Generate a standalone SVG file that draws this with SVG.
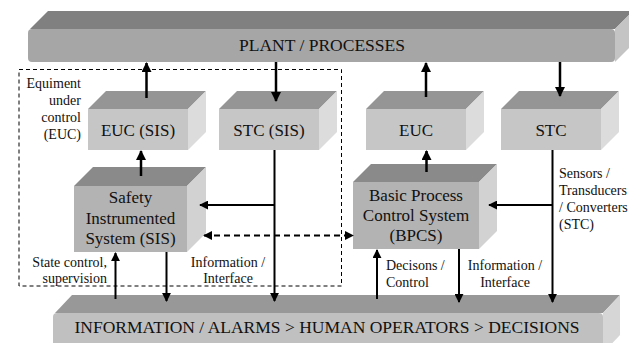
<svg xmlns="http://www.w3.org/2000/svg" width="629" height="343" viewBox="0 0 629 343" font-family="'Liberation Serif', 'DejaVu Serif', serif">
<defs>
<marker id="ah" viewBox="0 0 10 10" refX="9" refY="5" markerWidth="4" markerHeight="4" orient="auto-start-reverse" markerUnits="strokeWidth">
<path d="M0,0 L10,5 L0,10 z" fill="#000"/>
</marker>
<marker id="ahd" viewBox="0 0 10 10" refX="9" refY="5" markerWidth="4.5" markerHeight="4.5" orient="auto-start-reverse" markerUnits="strokeWidth">
<path d="M0,0 L10,5 L0,10 z" fill="#000"/>
</marker>
<style>
text{font-family:"Liberation Serif","DejaVu Serif",serif}
.big{font-size:17.5px;fill:#111;text-anchor:middle}
.box{font-size:17px;fill:#111;text-anchor:middle}
.lbl{font-size:14px;fill:#111}
.barF{fill:#a6a6a6}.barT{fill:#808080}.barS{fill:#c4c4c4}
.infF{fill:#c0c0c0}.infT{fill:#989898}.infS{fill:#d6d6d6}
.bF{fill:#c6c6c6}.bT{fill:#959595}.bS{fill:#dcdcdc}
.sF{fill:#b3b3b3}.sT{fill:#8a8a8a}.sS{fill:#d2d2d2}
.ln{stroke:#000;stroke-width:2.5;fill:none}
.ln2{stroke:#000;stroke-width:2;fill:none}
</style>
</defs>
<rect width="629" height="343" fill="#fff"/>

<g id="dashed-boundary">
<rect x="19" y="69.5" width="322.5" height="216.5" fill="none" stroke="#000" stroke-width="1" stroke-dasharray="4,3"/>
</g>

<g id="plant">
<polygon class="barT" points="30,29 48,11 633,11 615,29"/>
<polygon class="barS" points="615,29 633,11 633,44 615,62"/>
<rect class="barF" x="28" y="29" width="587" height="33" rx="4"/>
<text class="big" x="322" y="51">PLANT / PROCESSES</text>
</g>

<g id="info">
<polygon class="infT" points="55,313 72,295 620,295 603,313"/>
<polygon class="infS" points="603,313 620,295 620,335 603,353"/>
<rect class="infF" x="53" y="313" width="550" height="40" rx="4"/>
<text class="big" x="327" y="333">INFORMATION / ALARMS &gt; HUMAN OPERATORS &gt; DECISIONS</text>
</g>

<g id="euc-sis">
<polygon class="bT" points="88,109 106,91 206,91 188,109"/>
<polygon class="bS" points="188,109 206,91 206,132 188,150"/>
<rect class="bF" x="88" y="109" width="100" height="41"/>
<text class="box" x="138" y="135.5">EUC (SIS)</text>
</g>

<g id="stc-sis">
<polygon class="bT" points="219,109 237,91 337,91 319,109"/>
<polygon class="bS" points="319,109 337,91 337,132 319,150"/>
<rect class="bF" x="219" y="109" width="100" height="41"/>
<text class="box" x="269" y="135.5">STC (SIS)</text>
</g>

<g id="euc">
<polygon class="bT" points="366,109 384,91 484,91 466,109"/>
<polygon class="bS" points="466,109 484,91 484,132 466,150"/>
<rect class="bF" x="366" y="109" width="100" height="41"/>
<text class="box" x="416" y="135.5">EUC</text>
</g>

<g id="stc">
<polygon class="bT" points="501,109 519,91 619,91 601,109"/>
<polygon class="bS" points="601,109 619,91 619,132 601,150"/>
<rect class="bF" x="501" y="109" width="100" height="41"/>
<text class="box" x="551" y="135.5">STC</text>
</g>

<g id="sis">
<polygon class="sT" points="74,186 93,167 206,167 187,186"/>
<polygon class="sS" points="187,186 206,167 206,233 187,252"/>
<rect class="sF" x="74" y="186" width="113" height="66"/>
<text class="box" x="130.5" y="203">Safety</text>
<text class="box" x="130.5" y="224">Instrumented</text>
<text class="box" x="130.5" y="244">System (SIS)</text>
</g>

<g id="bpcs">
<polygon class="sT" points="353,182 371,164 497,164 479,182"/>
<polygon class="sS" points="479,182 497,164 497,231 479,249"/>
<rect class="sF" x="353" y="182" width="126" height="67"/>
<text class="box" x="416" y="201">Basic Process</text>
<text class="box" x="416" y="221">Control System</text>
<text class="box" x="416" y="241">(BPCS)</text>
</g>

<g id="connectors">
<line class="ln" x1="146.5" y1="98" x2="146.5" y2="63" marker-end="url(#ah)"/>
<line class="ln" x1="276" y1="62" x2="276" y2="101" marker-end="url(#ah)"/>
<line class="ln" x1="141" y1="176" x2="141" y2="151" marker-end="url(#ah)"/>
<line class="ln2" x1="274.5" y1="150" x2="274.5" y2="301" marker-end="url(#ahd)"/>
<line class="ln2" x1="274.5" y1="205" x2="200" y2="205" marker-end="url(#ahd)"/>
<line class="ln2" x1="204" y1="235.5" x2="353" y2="235.5" stroke-dasharray="6,4" marker-start="url(#ahd)" marker-end="url(#ahd)"/>
<line class="ln2" x1="115.5" y1="299" x2="115.5" y2="253" marker-end="url(#ahd)"/>
<line class="ln2" x1="166.5" y1="252" x2="166.5" y2="301" marker-end="url(#ahd)"/>
<line class="ln" x1="426" y1="97" x2="426" y2="63" marker-end="url(#ah)"/>
<line class="ln" x1="560" y1="62" x2="560" y2="96" marker-end="url(#ah)"/>
<line class="ln" x1="426.5" y1="172" x2="426.5" y2="151" marker-end="url(#ah)"/>
<line class="ln2" x1="552.5" y1="150" x2="552.5" y2="302" marker-end="url(#ahd)"/>
<line class="ln2" x1="552.5" y1="205" x2="489" y2="205" marker-end="url(#ahd)"/>
<line class="ln2" x1="377" y1="299" x2="377" y2="250" marker-end="url(#ahd)"/>
<line class="ln2" x1="459" y1="249" x2="459" y2="302" marker-end="url(#ahd)"/>
</g>

<g id="labels">
<text class="lbl" x="81" y="88" text-anchor="end">Equiment</text>
<text class="lbl" x="81" y="105" text-anchor="end">under</text>
<text class="lbl" x="81" y="122" text-anchor="end">control</text>
<text class="lbl" x="81" y="139" text-anchor="end">(EUC)</text>
<text class="lbl" x="107" y="267" text-anchor="end">State control,</text>
<text class="lbl" x="107" y="283" text-anchor="end">supervision</text>
<text class="lbl" x="228" y="267" text-anchor="middle">Information /</text>
<text class="lbl" x="228" y="283" text-anchor="middle">Interface</text>
<text class="lbl" x="386" y="270">Decisons /</text>
<text class="lbl" x="386" y="287">Control</text>
<text class="lbl" x="505" y="270" text-anchor="middle">Information /</text>
<text class="lbl" x="505" y="287" text-anchor="middle">Interface</text>
<text class="lbl" x="559" y="178">Sensors /</text>
<text class="lbl" x="559" y="195">Transducers</text>
<text class="lbl" x="559" y="212">/ Converters</text>
<text class="lbl" x="559" y="229">(STC)</text>
</g>
</svg>
